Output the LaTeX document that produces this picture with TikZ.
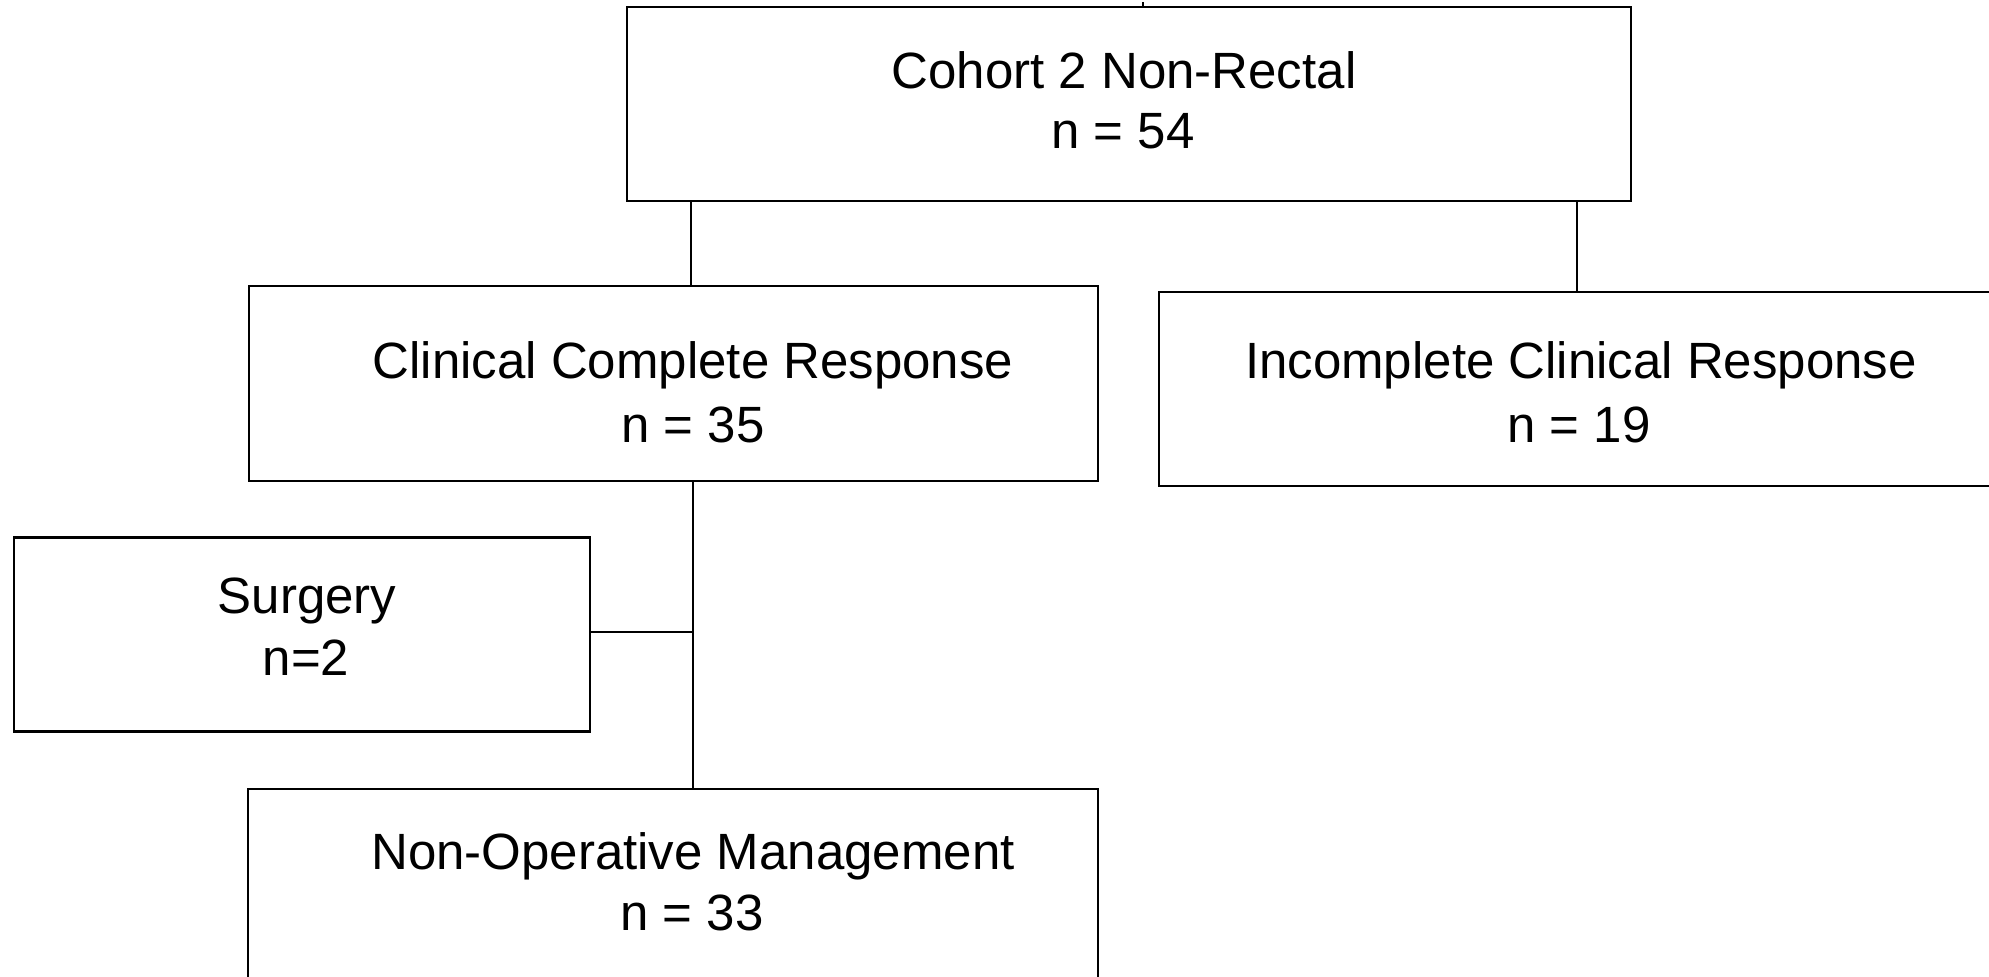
\documentclass[tikz,border=0pt]{standalone}
\usepackage{fontspec}
\setmainfont{Liberation Sans}
\begin{document}
\begin{tikzpicture}[x=1pt,y=-1pt,
  boxst/.style={draw=black,line width=2.4pt,rectangle,inner sep=0pt,outer sep=0pt,fill=none},
  txt/.style={anchor=base,inner sep=0pt,font=\fontsize{51}{61}\selectfont},
  conn/.style={draw=black,line width=1.9pt}]
\useasboundingbox (0,0) rectangle (1989,977);
\clip (0,0) rectangle (1989,977);
% boxes
\node[boxst,minimum width=1004pt,minimum height=194pt] (top) at (1129,104) {};
\node[boxst,minimum width=849pt,minimum height=195pt] (ccr) at (673.5,383.5) {};
\node[boxst,minimum width=941pt,minimum height=194pt] (icr) at (1629.5,389) {};
\node[boxst,minimum width=576pt,minimum height=194pt] (surg) at (302,634.5) {};
\node[boxst,minimum width=850pt,minimum height=194pt] (nom) at (673,886) {};
% texts
\node[txt] (t1) at (1124,88) {Cohort 2 Non-Rectal};
\node[txt] (t2) at (1123,148) {n = 54};
\node[txt] (t3) at (693,378) {Clinical Complete Response};
\node[txt] (t4) at (693,442) {n = 35};
\node[txt] (t5) at (1581,378) {Incomplete Clinical Response};
\node[txt] (t6) at (1579,442) {n = 19};
\node[txt] (t7) at (307,613) {Surgery};
\node[txt] (t8) at (306,675) {n=2};
\node[txt] (t9) at (693,869) {Non-Operative Management};
\node[txt] (t10) at (692,930) {n = 33};
% connector coordinates
\coordinate (cl) at (691,0);
\coordinate (cr) at (1577,0);
\coordinate (cm) at (693,0);
\coordinate (ctop) at (1143,2);
\coordinate (cs) at (693,632);
% connectors
\draw[conn] (ctop) -- (top.north -| ctop);
\draw[conn] (top.south -| cl) -- (ccr.north -| cl);
\draw[conn] (top.south -| cr) -- (icr.north -| cr);
\draw[conn] (ccr.south -| cm) -- (nom.north -| cm);
\draw[conn] (surg.east |- cs) -- (cs);
\end{tikzpicture}
\end{document}
